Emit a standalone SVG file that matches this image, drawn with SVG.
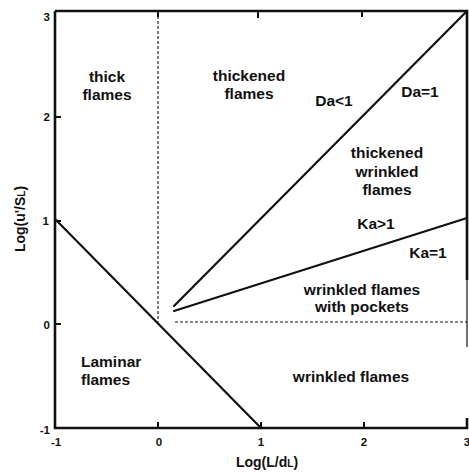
<svg xmlns="http://www.w3.org/2000/svg" width="469" height="474" viewBox="0 0 469 474">
<style>
.lbl{font-family:"Liberation Sans",Arial,sans-serif;font-weight:bold;font-size:15.5px;fill:#111;text-anchor:middle}
.lft{text-anchor:start}
.axl{font-size:14px}
.tk{font-family:"Liberation Sans",Arial,sans-serif;font-weight:bold;font-size:11.5px;fill:#111}
.ax{stroke:#111;stroke-width:2.6;fill:none}
.ln{stroke:#111;stroke-width:2.2;fill:none;stroke-linecap:round}
.ds{stroke:#111;stroke-width:1.1;fill:none;stroke-dasharray:3 2}
</style>
<rect width="469" height="474" fill="#fff"/>
<g id="axes">
<path class="ax" d="M55 11 H467 V280 M55 11 V428 H467 V418"/>
<path stroke="#111" stroke-width="1.2" d="M467 280 V347"/>
<path stroke="#111" stroke-width="2" d="M55 117 H61 M55 221 H61 M55 324 H61 M158 428 V422 M261 428 V422 M364 428 V422 M258 11 V18 M362 11 V17 M158 11 V17"/>
</g>
<g id="connectors">
<path class="ln" d="M56 220 L261 428"/>
<path class="ln" d="M174 306 L467 11"/>
<path class="ln" d="M174 311 L467 218"/>
<path class="ds" d="M158 11 V322"/>
<path class="ds" d="M175 322 H467"/>
</g>
<g id="ticks">
<text class="tk" x="50" y="21" text-anchor="end">3</text>
<text class="tk" x="50" y="121" text-anchor="end">2</text>
<text class="tk" x="49" y="225" text-anchor="end">1</text>
<text class="tk" x="50" y="329" text-anchor="end">0</text>
<text class="tk" x="50" y="434" text-anchor="end">-1</text>
<text class="tk" x="56" y="446" text-anchor="middle">-1</text>
<text class="tk" x="159" y="446" text-anchor="middle">0</text>
<text class="tk" x="261" y="446" text-anchor="middle">1</text>
<text class="tk" x="364" y="446" text-anchor="middle">2</text>
<text class="tk" x="467" y="446" text-anchor="middle">3</text>
</g>
<g id="axis-labels">
<text class="lbl axl" x="267" y="467">Log(L/d<tspan font-size="10">L</tspan>)</text>
<text class="lbl axl" transform="translate(25 219) rotate(-90)">Log(u'/S<tspan font-size="10">L</tspan>)</text>
</g>
<g id="thick-flames"><text class="lbl" x="107" y="82">thick</text><text class="lbl" x="107" y="100">flames</text></g>
<g id="thickened-flames"><text class="lbl" x="249" y="81">thickened</text><text class="lbl" x="249" y="99">flames</text></g>
<g id="da-lt-1"><text class="lbl" x="334" y="106">Da&lt;1</text></g>
<g id="da-eq-1"><text class="lbl" x="420" y="97">Da=1</text></g>
<g id="thickened-wrinkled-flames"><text class="lbl" x="387" y="158">thickened</text><text class="lbl" x="387" y="177">wrinkled</text><text class="lbl" x="387" y="195">flames</text></g>
<g id="ka-gt-1"><text class="lbl" x="376" y="229">Ka&gt;1</text></g>
<g id="ka-eq-1"><text class="lbl" x="428" y="258">Ka=1</text></g>
<g id="wrinkled-pockets"><text class="lbl" x="362" y="295">wrinkled flames</text><text class="lbl" x="362" y="312">with pockets</text></g>
<g id="laminar-flames"><text class="lbl lft" x="81" y="367">Laminar</text><text class="lbl lft" x="81" y="385">flames</text></g>
<g id="wrinkled-flames"><text class="lbl" x="351" y="382">wrinkled flames</text></g>
</svg>
